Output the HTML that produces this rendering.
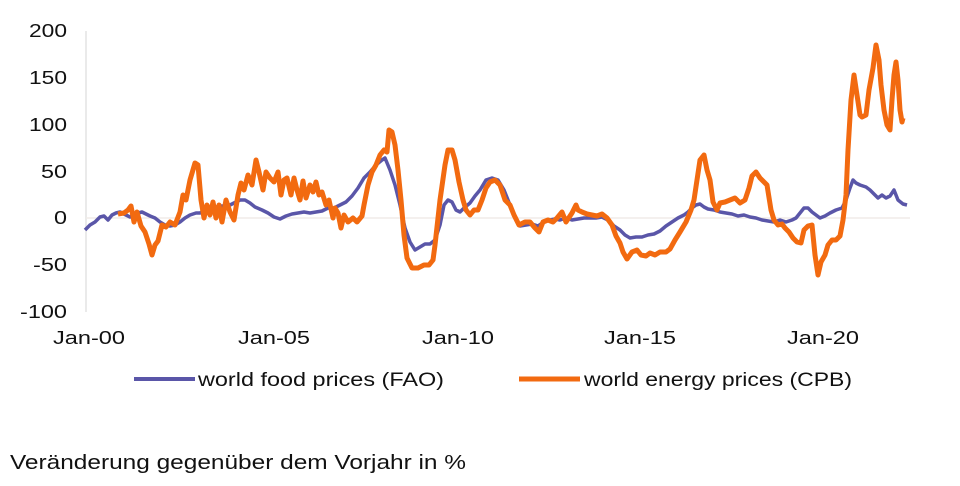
<!DOCTYPE html>
<html><head><meta charset="utf-8"><style>
body{margin:0;background:#fff;}
svg{display:block;font-family:"Liberation Sans",Arial,sans-serif;}
</style></head><body>
<svg width="960" height="486" viewBox="0 0 960 486">
<line x1="86" y1="31" x2="86" y2="312" stroke="#e4e4e4" stroke-width="1.5"/>
<line x1="86" y1="218" x2="910" y2="218" stroke="#f0ece8" stroke-width="1.5"/>
<g font-size="18" fill="#111" text-anchor="end" lengthAdjust="spacingAndGlyphs">
<text x="67" y="37" textLength="38" lengthAdjust="spacingAndGlyphs">200</text>
<text x="67" y="84" textLength="38" lengthAdjust="spacingAndGlyphs">150</text>
<text x="67" y="131" textLength="38" lengthAdjust="spacingAndGlyphs">100</text>
<text x="67" y="178" textLength="26" lengthAdjust="spacingAndGlyphs">50</text>
<text x="67" y="224" textLength="13" lengthAdjust="spacingAndGlyphs">0</text>
<text x="67" y="271" textLength="34" lengthAdjust="spacingAndGlyphs">-50</text>
<text x="67" y="318" textLength="47" lengthAdjust="spacingAndGlyphs">-100</text>
</g>
<g font-size="18" fill="#111" text-anchor="middle">
<text x="89" y="344" textLength="72" lengthAdjust="spacingAndGlyphs">Jan-00</text>
<text x="274" y="344" textLength="72" lengthAdjust="spacingAndGlyphs">Jan-05</text>
<text x="458" y="344" textLength="72" lengthAdjust="spacingAndGlyphs">Jan-10</text>
<text x="640" y="344" textLength="72" lengthAdjust="spacingAndGlyphs">Jan-15</text>
<text x="823" y="344" textLength="72" lengthAdjust="spacingAndGlyphs">Jan-20</text>
</g>
<polyline fill="none" stroke="#5a56a8" stroke-width="3.5" stroke-linejoin="round" points="85,230 90,225 95,222 100,217 104,216 108,220 112,215 116,213 120,212 126,215 130,217 134,215 138,213 142,212 146,214 150,216 155,218 160,222 165,225 170,226 175,225 180,222 185,218 190,215 196,213 200,213 205,210 210,208 216,207 222,206 228,206 234,203 240,200 245,200 250,203 255,207 262,210 268,213 274,217 280,219 286,216 292,214 298,213 304,212 310,213 316,212 322,211 328,208 334,208 340,205 346,202 352,196 358,188 364,178 370,172 376,165 382,160 385,158 390,170 395,185 400,205 405,228 410,242 415,250 420,247 425,244 430,244 435,240 440,225 444,205 448,200 452,202 456,210 460,212 464,208 470,203 475,196 480,190 486,180 492,178 498,180 504,190 508,200 512,210 516,220 520,226 526,225 532,224 538,226 544,222 550,220 555,219 560,220 566,218 572,220 578,219 584,218 590,218 596,218 602,217 608,220 614,226 620,230 625,235 630,238 636,237 642,237 648,235 654,234 660,231 666,226 672,222 678,218 684,215 688,212 692,208 696,205 700,204 704,207 708,209 714,210 720,212 726,213 732,214 738,216 744,215 750,217 756,218 762,220 768,221 774,222 780,220 786,222 792,220 796,218 800,213 804,208 808,208 812,212 816,215 820,218 825,216 830,213 836,210 842,208 846,200 850,188 853,180 856,183 860,185 866,187 870,190 874,194 878,198 882,195 886,198 890,196 894,190 898,200 903,204 907,205"/>
<polyline fill="none" stroke="#f26a10" stroke-width="5" stroke-linejoin="round" points="118,214 124,213 128,210 131,206 134,222 137,212 141,226 145,232 149,244 152,255 155,245 158,241 162,225 166,227 170,222 175,225 180,212 183,195 186,200 190,180 195,163 198,165 201,200 204,218 207,205 210,215 213,202 216,218 219,205 222,222 226,200 230,212 234,220 238,195 241,183 244,190 248,175 252,185 256,160 259,172 263,190 266,172 270,178 274,182 278,172 281,195 284,180 287,178 291,195 294,178 297,190 300,200 303,181 306,198 310,185 313,192 316,182 319,195 322,192 326,205 329,200 333,218 335,208 338,213 341,228 344,215 348,222 353,218 357,222 362,216 364,205 368,185 372,172 376,165 380,155 384,150 387,152 389,130 392,132 395,145 398,170 401,200 404,235 407,258 412,268 418,268 424,265 429,265 433,260 435,245 440,200 445,165 448,150 452,150 455,160 459,182 463,200 466,210 470,215 474,210 478,210 482,200 486,188 490,182 495,180 500,185 505,200 510,205 514,215 519,225 525,222 530,222 535,228 539,232 543,222 548,220 553,222 557,218 562,212 566,222 572,213 576,205 578,210 582,212 587,214 592,215 597,216 602,214 607,218 612,225 616,236 620,243 623,252 627,259 632,252 637,250 641,255 646,256 650,253 655,255 660,252 666,252 670,249 675,240 680,232 686,222 691,210 694,200 697,180 700,160 704,155 707,170 710,180 713,202 717,210 720,203 725,202 730,200 735,198 740,203 745,200 749,188 752,176 756,172 760,178 764,182 767,185 771,210 774,220 778,225 782,224 785,228 789,232 793,238 797,242 801,243 804,230 808,226 812,225 815,255 818,275 821,262 825,255 828,245 832,240 836,240 840,236 843,220 846,195 848,150 851,100 854,75 857,95 860,115 862,117 866,115 869,90 873,68 876,45 879,60 881,85 884,110 887,125 890,130 892,100 894,75 896,62 898,80 900,110 902,122 903,118"/>
<line x1="134" y1="379" x2="195" y2="379" stroke="#5a56a8" stroke-width="4"/>
<text x="198" y="386" font-size="19" fill="#111" textLength="246" lengthAdjust="spacingAndGlyphs">world food prices (FAO)</text>
<line x1="519" y1="379" x2="580" y2="379" stroke="#f26a10" stroke-width="5"/>
<text x="584" y="386" font-size="19" fill="#111" textLength="268" lengthAdjust="spacingAndGlyphs">world energy prices (CPB)</text>
<text x="10" y="469" font-size="20" fill="#111" textLength="456" lengthAdjust="spacingAndGlyphs">Veränderung gegenüber dem Vorjahr in %</text>
</svg>
</body></html>
